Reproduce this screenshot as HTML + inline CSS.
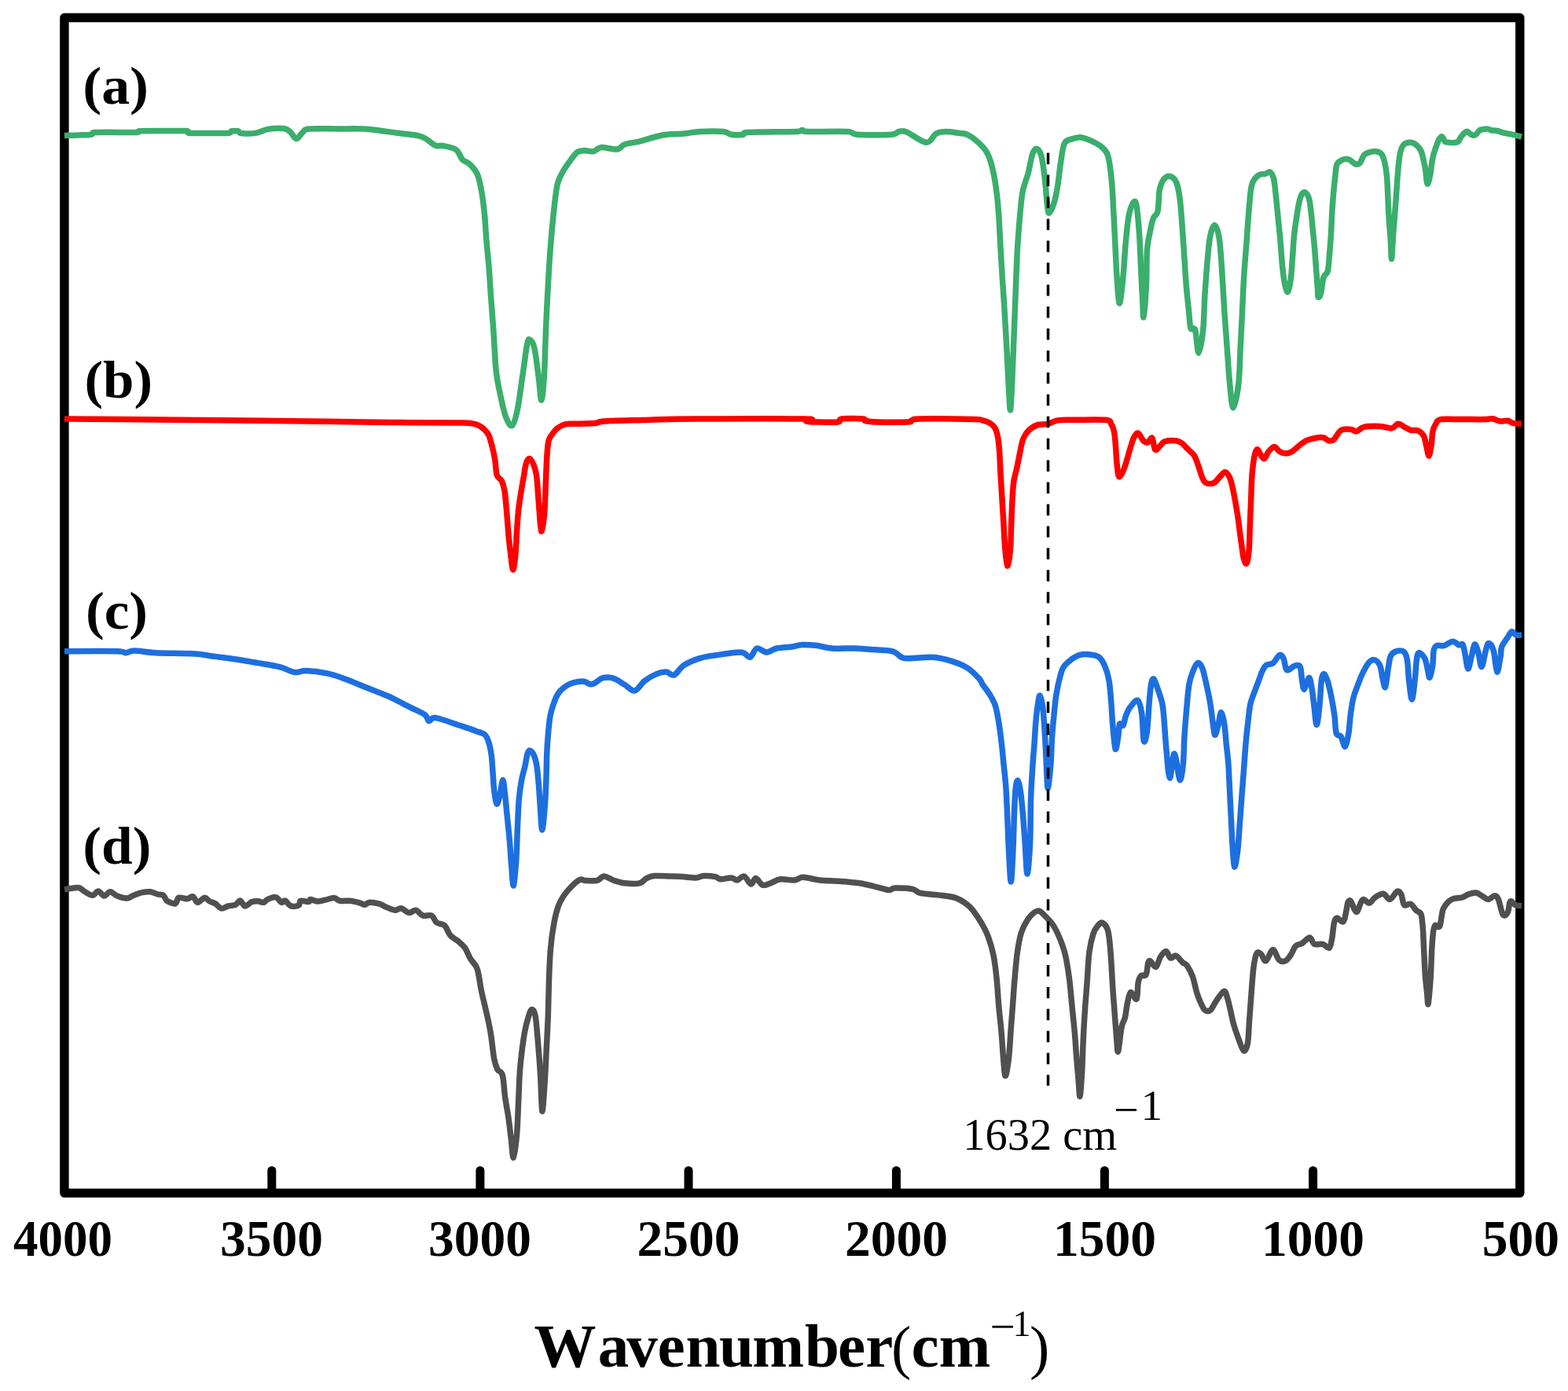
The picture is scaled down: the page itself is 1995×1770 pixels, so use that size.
<!DOCTYPE html>
<html><head><meta charset="utf-8"><title>FTIR spectra</title>
<style>html,body{margin:0;padding:0;background:#fff;} svg{display:block;}</style></head>
<body>
<svg width="1995" height="1770" viewBox="0 0 1995 1770">
<rect x="0" y="0" width="1995" height="1770" fill="#fff"/>
<rect x="81.9" y="22.5" width="1851.9" height="1495.6" fill="none" stroke="#000" stroke-width="11.4" stroke-linejoin="round"/>
<line x1="345.8" y1="1489.5" x2="345.8" y2="1515" stroke="#000" stroke-width="11" stroke-linecap="round"/>
<line x1="610.9" y1="1489.5" x2="610.9" y2="1515" stroke="#000" stroke-width="11" stroke-linecap="round"/>
<line x1="876.0" y1="1489.5" x2="876.0" y2="1515" stroke="#000" stroke-width="11" stroke-linecap="round"/>
<line x1="1140.4" y1="1489.5" x2="1140.4" y2="1515" stroke="#000" stroke-width="11" stroke-linecap="round"/>
<line x1="1405.4" y1="1489.5" x2="1405.4" y2="1515" stroke="#000" stroke-width="11" stroke-linecap="round"/>
<line x1="1670.6" y1="1489.5" x2="1670.6" y2="1515" stroke="#000" stroke-width="11" stroke-linecap="round"/>
<path d="M82.0 172.4 C85.0 172.3 94.3 172.2 100.0 172.0 C105.7 171.8 112.9 171.8 116.3 171.2 C119.7 170.6 114.7 169.1 120.3 168.6 C125.9 168.1 141.0 168.4 150.0 168.4 C159.0 168.4 169.7 168.7 174.4 168.4 C179.1 168.1 172.5 167.1 178.4 166.8 C184.3 166.5 200.2 166.6 210.0 166.6 C219.8 166.6 231.8 166.1 237.0 166.6 C242.2 167.1 236.3 168.9 241.0 169.4 C245.7 169.9 256.7 169.4 265.0 169.4 C273.3 169.4 285.8 169.8 290.7 169.4 C295.6 169.0 292.7 167.2 294.7 166.8 C296.7 166.4 300.8 166.4 302.8 166.8 C304.8 167.2 303.1 169.0 306.8 169.4 C310.5 169.8 319.1 170.2 324.8 169.4 C330.5 168.6 334.9 165.4 340.9 164.4 C346.9 163.4 356.2 163.1 360.9 163.6 C365.6 164.1 366.3 165.3 369.0 167.5 C371.7 169.7 374.3 176.3 377.0 176.5 C379.7 176.7 382.3 170.6 385.0 168.5 C387.7 166.4 385.5 164.8 393.0 164.0 C400.5 163.2 417.8 163.9 430.0 164.0 C442.2 164.1 453.3 163.4 466.0 164.3 C478.7 165.2 494.3 167.7 506.0 169.3 C517.7 170.9 528.0 171.2 536.0 173.8 C544.0 176.4 549.1 183.1 553.7 185.0 C558.3 186.9 559.3 184.6 563.7 185.5 C568.1 186.4 576.2 187.6 580.3 190.5 C584.4 193.4 585.4 200.0 588.2 203.0 C591.0 206.0 594.1 205.4 597.3 208.6 C600.5 211.8 604.9 215.8 607.5 222.0 C610.1 228.2 611.6 237.4 613.1 245.9 C614.6 254.4 615.5 263.2 616.5 273.0 C617.5 282.8 617.9 293.3 618.8 304.6 C619.7 315.9 621.2 329.1 622.1 340.8 C623.0 352.5 623.5 361.5 624.4 374.7 C625.3 387.9 626.7 403.7 627.8 419.9 C628.9 436.1 629.7 458.0 631.2 471.9 C632.7 485.8 634.7 493.7 636.8 503.5 C638.9 513.3 641.1 524.3 643.6 530.6 C646.1 536.9 649.0 543.0 651.5 541.5 C654.0 540.0 656.0 532.5 658.3 521.6 C660.6 510.8 663.0 490.3 665.1 476.4 C667.2 462.5 669.2 445.4 670.7 438.0 C672.2 430.6 672.6 431.6 674.1 432.3 C675.6 433.1 677.9 434.4 679.8 442.5 C681.7 450.6 683.9 469.8 685.4 480.9 C686.9 492.0 687.7 509.2 688.8 509.2 C689.9 509.2 691.2 495.8 692.2 480.9 C693.2 466.0 693.8 437.6 694.5 419.9 C695.2 402.2 695.8 391.6 696.7 374.7 C697.6 357.8 698.8 335.9 700.1 318.2 C701.4 300.5 703.1 282.4 704.6 268.5 C706.1 254.6 707.3 242.9 709.2 234.6 C711.1 226.3 713.3 223.7 715.9 218.8 C718.5 213.9 722.0 209.3 725.0 205.2 C728.0 201.0 731.0 196.2 734.0 193.9 C737.0 191.6 739.5 191.8 743.0 191.6 C746.5 191.4 751.3 193.3 755.0 192.6 C758.7 191.9 760.0 188.0 765.0 187.6 C770.0 187.2 780.0 190.6 785.0 190.0 C790.0 189.4 790.0 185.5 795.0 183.8 C800.0 182.1 807.0 181.6 815.0 179.6 C823.0 177.6 833.6 173.6 842.8 172.0 C852.0 170.4 862.4 170.8 870.3 170.0 C878.2 169.2 882.0 167.9 890.4 167.5 C898.8 167.1 913.8 166.9 920.5 167.5 C927.2 168.1 926.3 170.7 930.5 171.3 C934.7 171.9 942.6 171.7 945.5 171.3 C948.4 170.9 943.8 169.4 948.0 168.8 C952.2 168.2 959.8 168.2 970.6 168.0 C981.4 167.8 1004.6 167.9 1013.0 167.5 C1021.4 167.1 1018.2 165.5 1020.7 165.5 C1023.2 165.5 1018.5 167.2 1028.0 167.5 C1037.5 167.8 1067.5 166.9 1078.0 167.5 C1088.5 168.1 1081.8 170.7 1091.0 171.3 C1100.2 171.9 1124.8 171.9 1133.5 171.3 C1142.2 170.7 1140.2 168.1 1143.5 167.5 C1146.8 166.9 1147.7 165.7 1153.5 168.0 C1159.3 170.3 1172.3 181.0 1178.6 181.3 C1184.8 181.6 1186.8 172.3 1191.0 170.0 C1195.2 167.7 1198.7 167.6 1203.7 167.5 C1208.7 167.4 1216.5 168.9 1221.0 169.5 C1225.5 170.1 1227.2 169.5 1231.0 171.3 C1234.8 173.1 1239.6 176.7 1243.6 180.3 C1247.6 183.9 1251.9 187.9 1254.9 192.8 C1257.9 197.7 1259.5 202.0 1261.6 209.7 C1263.7 217.4 1265.8 228.5 1267.3 239.1 C1268.8 249.7 1269.8 260.6 1270.7 273.0 C1271.6 285.4 1272.2 300.5 1272.9 313.7 C1273.7 326.9 1274.4 340.1 1275.2 352.1 C1276.0 364.2 1276.6 370.9 1277.5 386.0 C1278.4 401.1 1279.9 425.6 1280.8 442.5 C1281.7 459.4 1282.3 474.4 1283.1 487.7 C1283.9 500.9 1284.7 522.0 1285.4 522.0 C1286.2 522.0 1286.8 502.8 1287.6 487.7 C1288.3 472.6 1289.2 450.0 1289.9 431.2 C1290.7 412.4 1291.3 393.5 1292.1 374.7 C1292.8 355.9 1293.5 335.1 1294.4 318.2 C1295.4 301.2 1296.7 285.4 1297.8 273.0 C1298.9 260.6 1299.5 252.3 1301.2 243.6 C1302.9 234.9 1305.9 228.9 1308.0 221.0 C1310.1 213.1 1311.7 201.5 1313.6 196.2 C1315.5 190.9 1317.4 189.0 1319.3 189.4 C1321.2 189.8 1323.2 192.0 1324.9 198.4 C1326.6 204.8 1328.1 216.9 1329.4 227.8 C1330.7 238.7 1331.8 256.9 1332.8 264.0 C1333.8 271.1 1333.8 271.5 1335.1 270.7 C1336.4 269.9 1339.0 264.7 1340.7 259.4 C1342.4 254.1 1343.8 248.1 1345.3 239.1 C1346.8 230.1 1348.3 214.6 1349.8 205.2 C1351.3 195.8 1352.0 187.3 1354.3 182.6 C1356.5 177.9 1359.9 178.3 1363.3 177.0 C1366.7 175.7 1370.4 174.3 1374.6 174.7 C1378.8 175.1 1383.7 177.1 1388.2 179.2 C1392.7 181.3 1398.2 183.9 1401.8 187.1 C1405.4 190.3 1407.6 191.6 1409.7 198.4 C1411.8 205.2 1413.1 217.2 1414.2 227.8 C1415.3 238.4 1415.7 248.5 1416.4 261.7 C1417.2 274.9 1417.9 291.8 1418.7 306.9 C1419.5 322.0 1420.0 338.9 1421.0 352.1 C1422.0 365.3 1423.1 386.0 1424.4 386.0 C1425.7 386.0 1427.7 365.2 1429.0 352.0 C1430.3 338.8 1431.1 320.4 1432.4 306.9 C1433.7 293.3 1434.9 279.0 1437.0 270.7 C1439.1 262.4 1442.8 253.0 1444.9 257.2 C1447.0 261.4 1448.3 281.7 1449.4 295.6 C1450.5 309.5 1450.8 325.7 1451.6 340.8 C1452.3 355.9 1453.3 375.6 1453.9 386.0 C1454.5 396.4 1454.2 406.8 1455.0 403.0 C1455.8 399.2 1457.7 377.5 1458.4 363.4 C1459.2 349.3 1458.6 330.2 1459.5 318.2 C1460.4 306.1 1462.7 297.9 1464.0 291.1 C1465.3 284.3 1466.0 281.3 1467.5 277.5 C1469.0 273.7 1471.8 274.5 1473.1 268.5 C1474.4 262.5 1474.1 248.2 1475.4 241.4 C1476.7 234.6 1478.7 230.6 1481.0 227.8 C1483.3 225.0 1486.4 223.7 1489.0 224.4 C1491.6 225.2 1494.7 227.2 1496.8 232.3 C1498.9 237.4 1500.1 244.3 1501.4 254.9 C1502.7 265.4 1503.8 283.2 1504.7 295.6 C1505.6 308.0 1506.2 318.2 1507.0 329.5 C1507.8 340.8 1508.3 352.1 1509.3 363.4 C1510.2 374.7 1511.8 388.3 1512.7 397.3 C1513.6 406.3 1513.6 413.8 1514.9 417.6 C1516.2 421.4 1518.9 414.6 1520.6 419.9 C1522.3 425.2 1523.4 449.3 1525.1 449.3 C1526.8 449.3 1529.4 432.3 1530.7 419.9 C1532.0 407.5 1532.0 389.8 1533.0 374.7 C1534.0 359.6 1535.3 341.9 1536.4 329.5 C1537.5 317.1 1538.3 307.2 1539.8 300.1 C1541.3 293.0 1543.5 286.2 1545.4 286.6 C1547.3 287.0 1549.6 293.4 1551.1 302.4 C1552.6 311.4 1553.4 325.0 1554.5 340.8 C1555.6 356.6 1556.8 380.4 1557.9 397.3 C1559.0 414.2 1560.1 427.4 1561.2 442.5 C1562.3 457.6 1563.3 474.9 1564.6 487.7 C1565.9 500.4 1567.3 519.0 1569.2 519.0 C1571.1 519.0 1574.4 500.4 1575.9 487.7 C1577.4 474.9 1577.4 457.6 1578.2 442.5 C1579.0 427.4 1579.8 412.4 1580.5 397.3 C1581.2 382.2 1581.8 367.2 1582.7 352.1 C1583.6 337.0 1585.0 322.0 1586.1 306.9 C1587.2 291.8 1588.4 273.8 1589.5 261.7 C1590.6 249.6 1591.0 241.0 1592.9 234.6 C1594.8 228.2 1598.0 225.5 1600.8 223.3 C1603.6 221.1 1607.5 221.9 1610.0 221.2 C1612.5 220.5 1614.3 217.9 1616.1 219.1 C1617.9 220.3 1619.5 223.2 1620.8 228.6 C1622.0 234.0 1622.7 243.3 1623.6 251.7 C1624.5 260.1 1625.4 269.8 1626.3 278.8 C1627.2 287.8 1628.1 295.7 1629.0 305.9 C1629.9 316.1 1630.8 330.8 1631.7 339.8 C1632.6 348.8 1633.3 354.7 1634.4 360.0 C1635.5 365.3 1637.2 372.6 1638.5 371.5 C1639.8 370.4 1641.5 360.9 1642.5 353.3 C1643.5 345.8 1643.9 335.2 1644.6 326.2 C1645.3 317.2 1645.8 307.0 1646.6 299.1 C1647.4 291.2 1648.3 285.6 1649.3 278.8 C1650.3 272.0 1651.6 263.6 1652.7 258.4 C1653.8 253.2 1654.8 249.8 1656.1 247.6 C1657.4 245.3 1659.2 244.0 1660.8 244.9 C1662.4 245.8 1664.3 248.5 1665.6 253.0 C1666.8 257.5 1667.5 265.4 1668.3 272.0 C1669.1 278.6 1669.6 285.5 1670.3 292.3 C1671.0 299.1 1671.6 304.7 1672.3 312.6 C1673.0 320.5 1673.7 330.8 1674.4 339.8 C1675.1 348.9 1676.0 360.5 1676.4 366.9 C1676.9 373.3 1676.4 376.9 1677.1 378.0 C1677.8 379.1 1679.4 377.7 1680.5 373.6 C1681.6 369.5 1682.4 358.0 1683.9 353.3 C1685.4 348.6 1688.1 349.7 1689.3 345.2 C1690.5 340.7 1690.6 333.9 1691.3 326.2 C1692.0 318.5 1692.8 308.1 1693.4 299.1 C1694.0 290.1 1694.2 281.0 1694.7 272.0 C1695.2 263.0 1696.0 252.8 1696.7 244.9 C1697.4 237.0 1698.1 230.4 1698.8 224.5 C1699.5 218.6 1699.6 213.0 1700.8 209.6 C1702.0 206.2 1704.2 205.4 1706.2 204.2 C1708.2 203.0 1711.0 202.2 1713.0 202.2 C1715.0 202.2 1716.4 203.1 1718.4 204.2 C1720.4 205.3 1723.2 208.6 1725.2 209.0 C1727.2 209.4 1728.9 208.8 1730.6 206.9 C1732.3 205.0 1733.6 199.6 1735.4 197.4 C1737.2 195.2 1738.9 194.8 1741.5 194.0 C1744.1 193.2 1748.3 192.3 1751.0 192.7 C1753.7 193.0 1755.9 193.7 1757.7 196.1 C1759.5 198.5 1760.7 202.2 1761.8 206.9 C1762.9 211.6 1763.8 217.0 1764.5 224.5 C1765.2 232.0 1765.5 242.6 1765.9 251.7 C1766.4 260.8 1766.6 269.8 1767.2 278.8 C1767.8 287.8 1768.7 297.4 1769.3 305.9 C1769.9 314.3 1770.0 330.6 1770.6 329.5 C1771.1 328.4 1771.9 308.7 1772.6 299.1 C1773.3 289.5 1774.0 281.0 1774.7 272.0 C1775.4 263.0 1776.0 253.9 1776.7 244.9 C1777.4 235.9 1777.9 226.2 1778.7 217.8 C1779.5 209.4 1780.2 200.3 1781.5 194.7 C1782.8 189.0 1783.9 186.1 1786.2 183.9 C1788.5 181.7 1792.5 181.1 1795.2 181.3 C1797.9 181.5 1800.4 183.1 1802.5 184.9 C1804.6 186.7 1806.5 188.9 1808.0 192.1 C1809.5 195.3 1810.3 200.2 1811.3 204.2 C1812.2 208.2 1812.9 211.2 1813.7 216.2 C1814.5 221.2 1815.0 233.3 1816.1 234.0 C1817.2 234.7 1819.2 224.5 1820.1 220.2 C1821.0 215.9 1821.0 212.2 1821.7 208.2 C1822.4 204.2 1823.0 200.1 1824.1 196.1 C1825.2 192.1 1826.9 187.3 1828.1 184.1 C1829.3 180.9 1830.2 178.6 1831.3 176.9 C1832.4 175.2 1833.4 173.4 1834.5 173.7 C1835.6 174.0 1836.8 177.3 1837.7 178.5 C1838.6 179.7 1837.4 180.5 1840.1 180.9 C1842.8 181.3 1850.7 182.0 1853.8 180.9 C1856.9 179.8 1857.0 176.5 1858.6 174.5 C1860.2 172.5 1862.1 170.1 1863.4 168.9 C1864.7 167.7 1865.5 167.2 1866.6 167.3 C1867.7 167.4 1868.6 168.9 1869.8 169.7 C1871.0 170.5 1872.5 171.8 1873.8 172.1 C1875.1 172.4 1876.3 172.4 1877.8 171.3 C1879.3 170.2 1881.0 166.8 1882.6 165.7 C1884.2 164.6 1885.8 164.8 1887.5 164.5 C1889.2 164.2 1891.5 163.9 1893.1 164.1 C1894.7 164.3 1895.1 165.3 1897.1 165.7 C1899.1 166.1 1902.6 166.0 1905.1 166.5 C1907.6 167.0 1909.8 168.2 1912.3 168.9 C1914.8 169.6 1917.6 170.0 1920.3 170.5 C1923.0 171.0 1925.8 171.5 1928.4 172.1 C1931.0 172.7 1934.7 173.8 1936.0 174.2" fill="none" stroke="#3aae6c" stroke-width="7.5" stroke-linejoin="round" stroke-linecap="butt"/>
<path d="M82.0 533.0 C93.3 533.1 122.0 533.2 150.0 533.5 C178.0 533.8 206.2 534.0 250.0 534.5 C293.8 535.0 371.3 535.8 413.0 536.3 C454.7 536.8 472.5 537.2 500.0 537.5 C527.5 537.8 561.4 537.8 578.0 538.0 C594.6 538.2 594.3 537.9 599.8 538.6 C605.3 539.3 607.5 540.1 611.0 542.4 C614.5 544.7 618.5 548.2 621.0 552.3 C623.5 556.4 624.4 561.8 625.9 567.2 C627.4 572.6 628.7 578.4 629.7 584.6 C630.8 590.8 630.8 599.9 632.2 604.5 C633.7 609.1 636.8 608.5 638.4 612.0 C640.0 615.5 641.1 619.3 642.1 625.7 C643.1 632.1 643.8 641.2 644.6 650.5 C645.4 659.8 646.3 672.7 647.1 681.6 C647.9 690.5 648.7 696.8 649.6 704.0 C650.5 711.2 651.7 724.6 652.7 725.0 C653.7 725.4 655.0 714.8 655.8 706.5 C656.6 698.2 657.0 684.7 657.6 675.4 C658.2 666.1 658.7 658.4 659.5 650.5 C660.3 642.6 661.5 635.4 662.6 628.1 C663.7 620.9 665.2 613.4 666.3 607.0 C667.4 600.6 668.1 593.5 669.4 589.6 C670.6 585.7 672.2 583.2 673.8 583.4 C675.4 583.6 677.3 587.4 678.8 590.9 C680.2 594.4 681.6 598.7 682.5 604.5 C683.4 610.3 683.8 618.0 684.4 625.7 C685.0 633.4 685.5 642.1 686.2 650.5 C686.9 658.9 687.7 675.0 688.7 676.0 C689.7 677.0 691.6 664.1 692.4 656.7 C693.2 649.4 693.3 641.2 693.7 631.9 C694.1 622.6 694.5 610.1 694.9 600.8 C695.3 591.5 695.7 582.5 696.2 575.9 C696.7 569.3 697.1 564.7 698.0 561.0 C698.9 557.3 699.9 556.3 701.8 553.6 C703.7 550.9 706.3 547.2 709.2 544.9 C712.1 542.6 715.5 540.8 719.2 539.9 C722.9 539.0 725.4 539.5 731.6 539.3 C737.8 539.1 750.3 539.1 756.5 538.6 C762.7 538.1 758.7 536.7 768.9 536.0 C779.1 535.3 798.2 535.0 817.6 534.5 C837.0 534.0 850.8 533.2 885.0 533.0 C919.2 532.8 999.5 532.5 1023.0 533.0 C1046.5 533.5 1023.2 535.3 1026.0 536.0 C1028.8 536.7 1033.3 536.8 1040.0 537.0 C1046.7 537.2 1060.8 537.7 1066.0 537.0 C1071.2 536.3 1065.7 533.7 1071.0 533.0 C1076.3 532.3 1093.0 532.6 1098.0 533.0 C1103.0 533.4 1098.0 534.8 1101.0 535.5 C1104.0 536.2 1107.0 536.8 1116.0 537.0 C1125.0 537.2 1147.7 537.3 1155.0 537.0 C1162.3 536.7 1157.3 535.7 1160.0 535.0 C1162.7 534.3 1157.9 533.2 1171.0 533.0 C1184.1 532.8 1225.5 533.2 1238.7 533.5 C1251.9 533.8 1246.5 534.0 1250.0 534.9 C1253.5 535.8 1257.2 536.9 1259.9 538.6 C1262.6 540.3 1264.4 541.8 1266.1 544.9 C1267.8 548.0 1268.9 552.1 1269.8 557.3 C1270.7 562.5 1271.2 568.6 1271.7 575.9 C1272.2 583.1 1272.4 591.5 1272.9 600.8 C1273.4 610.1 1274.2 621.5 1274.8 631.9 C1275.4 642.3 1276.1 652.6 1276.7 663.0 C1277.3 673.4 1277.7 684.5 1278.5 694.0 C1279.3 703.5 1280.4 719.0 1281.6 720.0 C1282.8 721.0 1284.6 708.7 1285.4 700.2 C1286.2 691.7 1286.2 679.6 1286.6 669.2 C1287.0 658.9 1287.4 647.4 1287.9 638.1 C1288.4 628.8 1288.8 620.0 1289.7 613.2 C1290.6 606.4 1292.2 602.9 1293.4 597.1 C1294.7 591.3 1296.0 584.4 1297.2 578.4 C1298.5 572.4 1299.5 565.5 1300.9 561.0 C1302.4 556.5 1304.0 553.8 1305.9 551.1 C1307.8 548.4 1309.6 546.7 1312.1 544.9 C1314.6 543.1 1317.3 541.4 1320.8 540.5 C1324.3 539.6 1329.0 540.2 1333.2 539.3 C1337.4 538.4 1340.5 535.7 1345.7 534.9 C1350.9 534.1 1354.2 534.4 1364.3 534.3 C1374.4 534.2 1398.3 533.4 1406.6 534.3 C1414.9 535.2 1412.1 537.1 1414.0 539.9 C1415.9 542.7 1416.9 546.1 1417.8 551.1 C1418.7 556.1 1419.1 563.5 1419.6 569.7 C1420.1 575.9 1420.3 582.4 1420.9 588.4 C1421.5 594.4 1422.2 603.7 1423.3 606.0 C1424.4 608.3 1426.2 604.7 1427.7 602.0 C1429.2 599.3 1430.9 594.6 1432.5 589.6 C1434.1 584.6 1435.8 577.6 1437.5 572.2 C1439.2 566.8 1440.7 560.8 1442.4 557.3 C1444.2 553.8 1445.9 550.5 1448.0 551.1 C1450.1 551.7 1452.8 559.0 1454.9 561.0 C1457.0 563.0 1458.7 563.5 1460.5 562.9 C1462.3 562.3 1464.5 555.8 1466.0 557.3 C1467.5 558.8 1467.9 570.8 1469.8 572.2 C1471.7 573.7 1475.1 567.8 1477.2 566.0 C1479.3 564.2 1478.9 562.4 1482.2 561.6 C1485.5 560.8 1493.4 560.5 1497.1 561.0 C1500.8 561.5 1502.1 562.8 1504.6 564.7 C1507.1 566.6 1509.5 569.7 1512.0 572.2 C1514.5 574.7 1517.4 576.4 1519.5 579.7 C1521.6 583.0 1522.8 587.6 1524.5 592.1 C1526.2 596.6 1527.8 603.3 1529.4 607.0 C1531.1 610.7 1531.9 613.2 1534.4 614.5 C1536.9 615.8 1541.5 615.8 1544.4 614.5 C1547.3 613.2 1549.4 609.3 1551.8 607.0 C1554.2 604.7 1556.5 600.8 1558.6 600.8 C1560.7 600.8 1562.6 603.9 1564.2 607.0 C1565.8 610.1 1566.8 614.2 1568.0 619.4 C1569.2 624.6 1570.6 631.9 1571.7 638.1 C1572.8 644.3 1573.9 650.5 1574.8 656.7 C1575.7 662.9 1576.5 669.2 1577.3 675.4 C1578.1 681.6 1579.0 688.2 1579.8 694.0 C1580.6 699.8 1581.3 706.4 1582.3 710.2 C1583.3 714.0 1584.9 718.7 1586.0 717.0 C1587.1 715.3 1588.4 708.2 1589.1 700.2 C1589.8 692.2 1589.9 679.6 1590.3 669.2 C1590.7 658.9 1591.2 648.5 1591.6 638.1 C1592.0 627.7 1592.3 615.3 1592.8 607.0 C1593.3 598.7 1594.0 593.6 1594.7 588.4 C1595.4 583.2 1596.3 578.6 1597.2 575.9 C1598.1 573.2 1599.0 571.4 1600.3 572.2 C1601.6 573.0 1603.8 579.0 1605.3 580.9 C1606.8 582.8 1607.5 584.4 1609.0 583.4 C1610.5 582.4 1611.9 577.2 1614.0 574.7 C1616.1 572.2 1619.1 568.5 1621.4 568.5 C1623.7 568.5 1625.6 573.1 1628.0 574.5 C1630.4 575.9 1633.3 577.0 1636.0 577.0 C1638.7 577.0 1640.0 577.0 1644.0 574.5 C1648.0 572.0 1654.8 564.6 1660.1 561.7 C1665.4 558.8 1672.1 557.7 1676.1 556.9 C1680.1 556.1 1681.8 556.2 1684.2 556.9 C1686.6 557.6 1688.5 560.5 1690.6 560.9 C1692.7 561.3 1694.3 561.6 1697.0 559.3 C1699.7 557.0 1702.8 549.4 1706.6 547.3 C1710.3 545.2 1716.3 546.2 1719.5 546.5 C1722.7 546.8 1723.2 549.4 1725.9 548.9 C1728.6 548.4 1730.4 544.4 1735.5 543.3 C1740.6 542.2 1750.4 542.2 1756.3 542.5 C1762.2 542.8 1767.0 545.4 1770.8 544.9 C1774.5 544.4 1776.1 539.5 1778.8 539.2 C1781.5 538.9 1784.1 541.9 1786.8 543.3 C1789.5 544.6 1791.8 546.5 1794.8 547.3 C1797.8 548.1 1801.7 546.8 1804.5 548.1 C1807.3 549.4 1810.0 552.0 1811.7 555.3 C1813.4 558.6 1813.8 564.0 1814.9 568.1 C1816.0 572.2 1817.0 580.5 1818.1 580.0 C1819.2 579.5 1820.5 570.1 1821.3 564.9 C1822.1 559.7 1822.0 553.2 1822.9 548.9 C1823.8 544.6 1825.2 541.8 1826.9 539.2 C1828.6 536.7 1827.7 534.5 1833.3 533.6 C1838.9 532.7 1851.0 533.6 1860.6 533.6 C1870.2 533.6 1884.7 533.7 1891.1 533.6 C1897.5 533.5 1896.2 532.4 1899.1 532.8 C1902.0 533.2 1905.5 535.6 1908.7 536.0 C1911.9 536.4 1915.7 534.8 1918.4 535.2 C1921.1 535.6 1921.9 537.7 1924.8 538.4 C1927.7 539.1 1934.1 539.1 1936.0 539.2" fill="none" stroke="#ff0000" stroke-width="7.5" stroke-linejoin="round" stroke-linecap="butt"/>
<path d="M82.0 828.7 C93.2 828.7 135.9 828.4 148.9 828.7 C161.9 829.0 156.3 830.8 160.0 830.7 C163.7 830.6 164.6 827.9 171.0 827.9 C177.4 827.9 185.7 830.0 198.6 830.7 C211.5 831.4 235.8 831.3 248.2 832.1 C260.6 832.9 264.3 834.2 273.0 835.4 C281.7 836.5 291.4 837.6 300.6 839.0 C309.8 840.4 318.9 842.0 328.1 843.6 C337.3 845.2 347.9 846.6 355.7 848.6 C363.5 850.6 369.5 854.7 375.0 855.5 C380.5 856.3 381.9 853.4 388.8 853.6 C395.7 853.8 408.1 855.2 416.4 856.9 C424.7 858.6 430.1 860.8 438.4 863.8 C446.7 866.8 456.8 871.1 466.0 874.8 C475.2 878.5 484.4 881.7 493.6 885.8 C502.8 889.9 513.3 895.7 521.1 899.6 C528.9 903.5 536.3 906.3 540.4 909.3 C544.5 912.3 543.6 916.8 545.9 917.5 C548.2 918.2 547.8 912.5 554.2 913.4 C560.6 914.3 576.9 920.5 584.5 923.0 C592.1 925.5 596.3 926.8 600.0 928.1 C603.7 929.4 604.0 929.6 606.8 930.7 C609.6 931.8 614.4 932.5 616.9 934.9 C619.4 937.3 620.6 940.6 622.0 945.1 C623.4 949.6 624.5 955.5 625.4 962.0 C626.2 968.5 626.5 976.8 627.1 984.1 C627.7 991.5 627.9 999.6 628.8 1006.1 C629.6 1012.6 630.9 1022.4 632.2 1023.0 C633.5 1023.6 635.1 1014.6 636.4 1009.5 C637.7 1004.4 638.8 992.5 639.8 992.5 C640.8 992.5 641.5 1002.4 642.4 1009.5 C643.2 1016.6 643.9 1025.0 644.9 1034.9 C645.9 1044.8 647.3 1057.5 648.3 1068.8 C649.3 1080.1 649.9 1093.0 650.8 1102.7 C651.6 1112.4 652.4 1128.4 653.4 1127.0 C654.4 1125.6 655.9 1106.7 656.8 1094.2 C657.6 1081.7 657.9 1064.6 658.5 1051.9 C659.1 1039.2 659.4 1027.9 660.2 1018.0 C661.1 1008.1 662.3 999.6 663.6 992.5 C664.9 985.4 666.5 981.2 667.8 975.6 C669.1 970.0 670.1 962.0 671.2 958.6 C672.3 955.2 673.2 954.7 674.6 955.3 C676.0 955.9 678.3 958.6 679.7 962.0 C681.1 965.4 682.1 969.1 683.1 975.6 C684.1 982.1 684.9 992.5 685.6 1001.0 C686.3 1009.5 686.6 1017.2 687.3 1026.4 C688.0 1035.6 688.8 1056.0 689.8 1056.0 C690.8 1056.0 692.4 1037.0 693.2 1026.4 C694.1 1015.8 694.5 1003.8 694.9 992.5 C695.3 981.2 695.4 968.5 695.8 958.6 C696.2 948.7 696.8 941.1 697.5 933.2 C698.2 925.3 698.9 917.4 700.0 911.2 C701.1 905.0 702.5 900.7 704.2 895.9 C705.9 891.1 707.8 886.1 710.2 882.4 C712.6 878.7 715.5 876.2 718.6 873.9 C721.7 871.6 724.8 869.9 728.8 868.8 C732.8 867.7 738.7 866.8 742.4 867.1 C746.1 867.4 748.5 870.1 750.8 870.5 C753.0 870.9 753.3 871.0 755.9 869.7 C758.5 868.4 763.0 864.2 766.1 862.9 C769.2 861.6 771.9 861.8 774.6 862.0 C777.3 862.2 779.1 862.3 782.5 863.9 C785.9 865.5 790.8 868.9 795.0 871.4 C799.2 873.9 803.4 879.7 807.6 878.9 C811.8 878.1 815.5 869.9 820.1 866.4 C824.7 862.9 830.6 859.5 835.2 857.6 C839.8 855.7 844.0 854.9 847.7 855.1 C851.5 855.3 853.9 860.4 857.7 858.9 C861.5 857.4 864.9 849.9 870.3 846.4 C875.7 842.9 883.6 839.7 890.3 837.6 C897.0 835.5 901.6 835.0 910.4 833.8 C919.2 832.5 935.6 829.7 942.9 830.1 C950.2 830.5 950.9 837.1 954.2 836.3 C957.6 835.4 959.5 826.0 963.0 825.0 C966.5 824.0 971.3 830.1 975.5 830.1 C979.7 830.1 982.6 826.2 988.0 825.0 C993.4 823.8 1002.6 823.8 1008.0 823.0 C1013.4 822.2 1015.6 820.8 1020.6 820.5 C1025.6 820.2 1031.9 820.5 1038.2 821.3 C1044.5 822.0 1049.9 824.4 1058.2 825.0 C1066.5 825.6 1080.4 824.8 1088.3 825.0 C1096.2 825.2 1097.9 825.7 1105.8 826.3 C1113.7 826.9 1128.4 826.9 1135.9 828.8 C1143.4 830.7 1142.7 836.4 1151.0 837.6 C1159.3 838.9 1176.0 835.7 1186.0 836.3 C1196.0 836.9 1203.6 839.0 1211.1 841.3 C1218.6 843.6 1225.3 846.3 1231.2 850.1 C1237.1 853.9 1243.1 860.6 1246.2 864.0 C1249.3 867.4 1247.9 867.4 1250.0 870.6 C1252.1 873.8 1256.3 878.8 1259.0 883.3 C1261.7 887.8 1264.3 891.8 1266.3 897.8 C1268.3 903.8 1269.4 911.4 1270.8 919.5 C1272.2 927.6 1273.4 937.6 1274.4 946.6 C1275.5 955.6 1276.2 964.7 1277.1 973.7 C1278.0 982.7 1279.0 990.2 1279.8 1000.8 C1280.5 1011.3 1281.0 1023.4 1281.6 1037.0 C1282.2 1050.6 1282.7 1068.0 1283.5 1082.2 C1284.3 1096.4 1285.3 1122.0 1286.2 1122.0 C1287.1 1122.0 1288.2 1097.9 1288.9 1082.2 C1289.7 1066.5 1290.1 1041.6 1290.7 1028.0 C1291.3 1014.4 1291.8 1006.5 1292.5 1000.8 C1293.2 995.1 1294.2 992.1 1295.2 993.6 C1296.2 995.1 1297.8 1002.7 1298.8 1009.9 C1299.8 1017.1 1300.6 1026.5 1301.5 1037.0 C1302.4 1047.5 1303.3 1060.7 1304.2 1073.2 C1305.1 1085.7 1305.9 1112.0 1307.0 1112.0 C1308.1 1112.0 1309.8 1088.7 1310.6 1073.2 C1311.3 1057.7 1311.0 1034.0 1311.5 1018.9 C1312.0 1003.8 1312.5 994.8 1313.3 982.7 C1314.0 970.7 1315.2 957.1 1316.0 946.6 C1316.8 936.1 1317.0 927.9 1317.8 919.5 C1318.5 911.1 1319.6 901.7 1320.5 896.0 C1321.4 890.3 1322.1 884.2 1323.2 885.1 C1324.3 886.0 1325.8 892.7 1326.9 901.4 C1328.0 910.1 1328.8 925.5 1329.6 937.5 C1330.3 949.5 1330.8 962.8 1331.4 973.7 C1332.0 984.6 1332.3 1003.0 1333.2 1003.0 C1334.1 1003.0 1335.9 984.6 1336.8 973.7 C1337.7 962.8 1337.8 948.6 1338.6 937.5 C1339.3 926.4 1340.4 915.8 1341.3 906.8 C1342.2 897.8 1342.8 890.8 1344.0 883.3 C1345.2 875.8 1347.1 867.3 1348.6 861.6 C1350.1 855.9 1350.8 852.5 1353.1 848.9 C1355.3 845.3 1358.8 842.4 1362.1 839.9 C1365.4 837.4 1368.8 834.8 1373.0 833.6 C1377.2 832.5 1383.2 832.5 1387.4 833.0 C1391.6 833.5 1395.3 833.9 1398.3 836.3 C1401.3 838.6 1403.4 842.3 1405.5 847.1 C1407.6 851.9 1409.5 857.7 1410.9 865.2 C1412.3 872.7 1412.9 883.2 1413.7 892.3 C1414.5 901.3 1414.6 909.4 1415.5 919.5 C1416.4 929.6 1417.9 950.0 1419.1 953.0 C1420.3 956.0 1421.8 942.8 1422.7 937.5 C1423.6 932.2 1423.5 923.7 1424.5 921.3 C1425.5 918.9 1427.7 924.9 1429.0 923.1 C1430.3 921.3 1431.1 914.3 1432.6 910.4 C1434.1 906.5 1435.6 902.8 1438.1 899.6 C1440.6 896.4 1445.2 889.8 1447.6 891.2 C1450.0 892.6 1451.4 899.5 1452.7 908.1 C1454.0 916.7 1454.2 939.3 1455.3 943.0 C1456.4 946.7 1458.4 938.0 1459.5 930.2 C1460.6 922.4 1461.2 906.2 1462.0 896.3 C1462.8 886.4 1463.6 876.2 1464.6 870.8 C1465.6 865.4 1466.5 862.7 1468.0 864.1 C1469.5 865.5 1472.1 873.9 1473.9 879.3 C1475.7 884.7 1477.7 889.2 1479.0 896.3 C1480.3 903.4 1480.7 911.8 1481.5 921.7 C1482.3 931.6 1483.0 944.2 1484.1 955.6 C1485.2 967.0 1486.6 989.4 1488.3 990.0 C1490.0 990.6 1492.1 958.6 1494.2 959.0 C1496.3 959.4 1499.2 990.0 1501.0 992.2 C1502.8 994.5 1504.3 981.4 1505.3 972.5 C1506.3 963.6 1506.2 949.9 1506.9 938.6 C1507.6 927.3 1508.5 916.0 1509.5 904.7 C1510.5 893.4 1511.5 879.3 1512.9 870.8 C1514.3 862.3 1516.2 858.4 1518.0 853.9 C1519.8 849.4 1521.9 844.3 1523.9 843.7 C1525.9 843.1 1528.0 846.0 1529.8 850.5 C1531.6 855.0 1533.2 863.2 1534.9 870.8 C1536.6 878.4 1538.6 887.8 1540.0 896.3 C1541.4 904.8 1542.4 915.2 1543.4 921.7 C1544.4 928.2 1544.8 935.3 1545.9 935.3 C1547.0 935.3 1548.9 926.5 1550.2 921.7 C1551.5 916.9 1552.3 906.4 1553.6 906.4 C1554.9 906.4 1556.7 914.9 1557.8 921.7 C1558.9 928.5 1559.4 938.6 1560.3 947.1 C1561.2 955.6 1562.2 962.6 1562.9 972.5 C1563.6 982.4 1564.0 995.1 1564.6 1006.4 C1565.2 1017.7 1565.7 1029.0 1566.3 1040.3 C1566.9 1051.6 1567.3 1063.8 1568.0 1074.2 C1568.7 1084.7 1569.4 1101.6 1570.5 1103.0 C1571.6 1104.4 1573.6 1091.7 1574.7 1082.7 C1575.8 1073.7 1576.5 1060.1 1577.3 1048.8 C1578.1 1037.5 1578.9 1026.2 1579.8 1014.9 C1580.7 1003.6 1581.6 992.3 1582.4 981.0 C1583.2 969.7 1584.1 957.0 1584.9 947.1 C1585.8 937.2 1586.5 930.2 1587.5 921.7 C1588.5 913.2 1589.4 903.1 1590.8 896.3 C1592.2 889.5 1594.2 885.8 1595.9 881.0 C1597.6 876.2 1599.3 872.0 1601.0 867.5 C1602.7 863.0 1604.4 857.4 1606.1 853.9 C1607.8 850.4 1608.9 848.0 1611.2 846.3 C1613.5 844.6 1616.9 845.8 1619.7 843.7 C1622.5 841.6 1625.8 834.5 1628.1 833.6 C1630.3 832.7 1631.7 835.0 1633.2 838.1 C1634.7 841.2 1634.8 851.0 1637.2 852.5 C1639.6 854.0 1644.7 847.8 1647.5 847.1 C1650.3 846.5 1652.8 845.6 1654.3 848.6 C1655.8 851.6 1655.6 860.4 1656.5 865.2 C1657.4 870.0 1658.0 877.7 1659.5 877.2 C1661.0 876.7 1664.0 862.2 1665.6 862.2 C1667.2 862.2 1668.3 871.7 1669.3 877.2 C1670.3 882.7 1670.6 887.8 1671.6 895.3 C1672.6 902.8 1674.0 922.3 1675.3 922.3 C1676.5 922.3 1678.1 904.8 1679.1 895.3 C1680.1 885.8 1680.4 871.5 1681.4 865.2 C1682.4 858.9 1683.7 857.2 1685.1 857.7 C1686.5 858.2 1688.1 863.2 1689.6 868.2 C1691.1 873.2 1692.7 880.7 1694.1 887.7 C1695.5 894.7 1696.9 902.8 1697.9 910.3 C1698.9 917.8 1698.8 928.4 1700.2 932.9 C1701.6 937.4 1704.3 934.5 1706.2 937.4 C1708.1 940.2 1709.8 950.8 1711.4 950.0 C1713.0 949.2 1714.8 939.5 1715.9 932.9 C1717.0 926.3 1717.2 917.8 1718.2 910.3 C1719.2 902.8 1720.5 894.0 1722.0 887.7 C1723.5 881.4 1725.3 877.7 1727.2 872.7 C1729.1 867.7 1730.9 862.5 1733.2 857.7 C1735.5 852.9 1738.3 847.1 1740.8 844.1 C1743.3 841.1 1745.8 839.1 1748.3 839.6 C1750.8 840.1 1753.9 842.8 1755.8 847.1 C1757.7 851.4 1758.4 860.7 1759.5 865.2 C1760.6 869.7 1761.5 876.7 1762.6 874.2 C1763.7 871.7 1765.2 856.7 1766.3 850.2 C1767.4 843.7 1767.8 838.6 1769.3 835.1 C1770.8 831.6 1772.5 830.1 1775.3 829.1 C1778.1 828.1 1783.4 827.4 1785.9 829.1 C1788.4 830.9 1789.3 833.6 1790.4 839.6 C1791.5 845.6 1791.6 856.8 1792.6 865.2 C1793.6 873.6 1795.1 890.0 1796.4 890.0 C1797.7 890.0 1799.2 873.6 1800.2 865.2 C1801.2 856.8 1801.5 845.4 1802.4 839.6 C1803.3 833.8 1803.7 830.9 1805.4 830.6 C1807.2 830.4 1811.0 834.3 1812.9 838.1 C1814.8 841.9 1815.7 849.2 1816.7 853.2 C1817.7 857.2 1818.0 863.2 1819.0 862.2 C1820.0 861.2 1821.8 852.9 1822.7 847.1 C1823.6 841.3 1823.3 831.9 1824.2 827.6 C1825.1 823.4 1825.9 822.6 1828.0 821.6 C1830.1 820.6 1833.6 822.5 1837.0 821.6 C1840.4 820.7 1845.0 816.4 1848.3 816.3 C1851.5 816.2 1854.4 820.2 1856.5 820.8 C1858.6 821.4 1859.8 818.2 1861.0 820.1 C1862.2 822.0 1862.9 827.0 1864.0 832.1 C1865.1 837.2 1866.4 850.5 1867.8 851.0 C1869.2 851.5 1870.9 840.2 1872.3 835.1 C1873.7 830.0 1874.7 821.1 1876.1 820.1 C1877.5 819.1 1879.1 824.4 1880.6 829.1 C1882.1 833.9 1883.5 848.9 1885.1 848.6 C1886.7 848.4 1888.9 832.6 1890.4 827.6 C1891.9 822.6 1892.5 818.6 1894.1 818.6 C1895.7 818.6 1898.4 821.5 1900.2 827.6 C1902.0 833.7 1903.2 853.8 1904.7 855.0 C1906.2 856.2 1908.2 840.4 1909.2 835.1 C1910.2 829.8 1909.2 827.1 1910.7 823.1 C1912.2 819.1 1916.1 814.4 1918.2 811.1 C1920.3 807.8 1921.8 804.0 1923.5 803.5 C1925.2 803.0 1926.6 807.2 1928.7 808.0 C1930.8 808.8 1934.8 808.0 1936.0 808.0" fill="none" stroke="#1d6fe0" stroke-width="7.5" stroke-linejoin="round" stroke-linecap="butt"/>
<path d="M82.0 1131.8 C84.9 1131.4 95.3 1129.1 99.5 1129.5 C103.7 1129.9 104.1 1132.5 107.1 1134.1 C110.1 1135.7 114.6 1139.3 117.6 1139.3 C120.6 1139.3 122.6 1134.0 125.1 1134.1 C127.6 1134.2 130.1 1140.0 132.6 1140.1 C135.1 1140.2 137.4 1134.8 140.2 1134.8 C143.0 1134.8 145.7 1138.7 149.2 1140.1 C152.7 1141.5 157.7 1143.2 161.2 1143.1 C164.7 1143.0 166.9 1140.5 170.2 1139.3 C173.5 1138.0 177.3 1136.3 180.8 1135.6 C184.3 1134.8 188.1 1134.4 191.3 1134.8 C194.6 1135.2 197.6 1137.0 200.3 1137.8 C203.1 1138.5 205.8 1137.9 207.8 1139.3 C209.8 1140.7 209.8 1144.3 212.3 1146.1 C214.8 1147.8 220.4 1150.4 222.9 1149.8 C225.4 1149.2 224.9 1143.3 227.4 1142.3 C229.9 1141.3 234.9 1144.0 237.9 1143.8 C240.9 1143.5 243.2 1140.0 245.4 1140.8 C247.7 1141.5 248.9 1148.0 251.4 1148.3 C253.9 1148.5 258.0 1142.5 260.5 1142.3 C263.0 1142.0 264.2 1145.5 266.5 1146.8 C268.8 1148.0 271.5 1148.3 274.0 1149.8 C276.5 1151.3 278.8 1155.4 281.5 1155.9 C284.2 1156.4 287.5 1153.7 290.5 1152.9 C293.5 1152.2 297.0 1152.5 299.5 1151.4 C302.0 1150.3 303.6 1145.8 305.6 1146.1 C307.6 1146.3 309.1 1152.7 311.6 1152.9 C314.1 1153.2 317.9 1148.6 320.6 1147.6 C323.4 1146.6 325.6 1146.7 328.1 1146.8 C330.6 1146.9 333.6 1148.7 335.6 1148.3 C337.6 1147.9 337.7 1145.7 340.2 1144.6 C342.7 1143.5 347.7 1141.0 350.7 1141.6 C353.7 1142.2 356.2 1147.5 358.2 1148.3 C360.2 1149.0 360.7 1145.3 362.7 1146.1 C364.7 1146.9 367.3 1151.9 370.2 1152.9 C373.1 1153.9 377.9 1153.1 380.0 1152.0 C382.1 1150.9 380.4 1147.0 382.5 1146.3 C384.6 1145.6 390.5 1147.9 392.6 1147.6 C394.7 1147.3 393.2 1144.5 395.1 1144.4 C397.0 1144.3 400.7 1146.8 403.8 1146.9 C406.9 1147.0 410.3 1145.8 413.9 1145.1 C417.4 1144.4 422.0 1142.4 425.1 1142.6 C428.2 1142.8 429.4 1145.7 432.7 1146.3 C436.0 1146.9 441.0 1145.9 445.2 1146.3 C449.4 1146.7 454.6 1148.0 457.7 1148.8 C460.8 1149.6 461.9 1151.4 464.0 1151.3 C466.1 1151.2 467.2 1148.4 470.3 1148.2 C473.4 1148.0 479.5 1149.2 482.8 1150.1 C486.1 1151.0 487.0 1152.4 490.3 1153.8 C493.6 1155.2 499.5 1157.9 502.8 1158.2 C506.1 1158.5 507.5 1155.2 510.4 1155.7 C513.3 1156.2 517.3 1161.0 520.4 1161.4 C523.5 1161.8 526.3 1157.6 529.2 1158.2 C532.1 1158.8 534.6 1163.9 537.9 1165.1 C541.2 1166.2 546.3 1163.6 549.2 1165.1 C552.1 1166.6 552.8 1171.8 555.5 1173.9 C558.2 1176.0 562.6 1174.9 565.5 1177.6 C568.4 1180.3 570.1 1186.8 573.0 1190.2 C575.9 1193.6 579.9 1195.0 583.0 1197.7 C586.1 1200.4 589.2 1202.8 591.8 1206.5 C594.4 1210.2 596.0 1215.8 598.6 1220.2 C601.2 1224.6 604.9 1226.2 607.2 1233.0 C609.5 1239.8 610.5 1251.7 612.5 1261.0 C614.5 1270.3 617.0 1279.9 619.0 1288.8 C621.0 1297.7 622.7 1304.9 624.3 1314.6 C625.9 1324.3 627.2 1339.1 628.6 1346.8 C630.0 1354.5 631.1 1357.1 632.9 1360.7 C634.7 1364.3 637.8 1362.3 639.4 1368.2 C641.0 1374.1 641.4 1387.1 642.6 1396.1 C643.9 1405.0 645.6 1413.3 646.9 1421.9 C648.1 1430.5 649.0 1439.1 650.1 1447.6 C651.2 1456.1 652.0 1473.7 653.3 1473.0 C654.5 1472.3 656.5 1455.4 657.6 1443.3 C658.7 1431.2 659.0 1414.7 659.7 1400.4 C660.4 1386.1 660.6 1371.8 661.9 1357.5 C663.2 1343.2 665.5 1325.3 667.3 1314.6 C669.1 1303.9 671.0 1298.1 672.6 1293.1 C674.2 1288.1 675.5 1284.5 676.9 1284.5 C678.3 1284.5 680.0 1286.3 681.2 1293.1 C682.5 1299.9 683.3 1312.8 684.4 1325.3 C685.5 1337.8 686.7 1353.4 687.6 1368.2 C688.5 1383.0 688.9 1412.2 689.8 1414.0 C690.7 1415.8 692.1 1392.0 693.0 1379.0 C693.9 1366.0 694.5 1350.3 695.2 1336.0 C695.9 1321.7 696.8 1307.4 697.3 1293.1 C697.8 1278.8 697.9 1264.5 698.4 1250.2 C698.9 1235.9 699.4 1219.8 700.5 1207.3 C701.6 1194.8 703.2 1184.0 704.8 1175.1 C706.4 1166.1 708.2 1159.3 710.2 1153.6 C712.2 1147.9 713.8 1145.1 716.6 1140.8 C719.5 1136.5 723.7 1131.5 727.3 1127.9 C730.9 1124.3 735.2 1120.5 738.1 1119.3 C741.0 1118.0 740.9 1120.2 744.5 1120.4 C748.1 1120.6 755.6 1121.3 759.5 1120.4 C763.4 1119.5 765.2 1115.4 768.1 1115.0 C771.0 1114.6 774.7 1117.4 776.7 1118.2 C778.7 1119.0 777.0 1119.1 780.0 1120.0 C783.0 1120.9 789.4 1123.2 795.0 1123.8 C800.6 1124.4 809.2 1124.8 813.8 1123.8 C818.4 1122.8 819.5 1119.1 822.6 1117.6 C825.7 1116.0 827.6 1114.9 832.6 1114.5 C837.6 1114.1 846.9 1114.8 852.7 1115.0 C858.6 1115.2 862.3 1115.3 867.7 1115.6 C873.1 1115.9 880.7 1117.2 885.3 1117.0 C889.9 1116.8 891.1 1114.7 895.3 1114.5 C899.5 1114.3 906.8 1114.9 910.3 1115.6 C913.8 1116.3 913.2 1118.6 916.6 1118.8 C920.0 1119.0 926.9 1116.8 930.4 1117.0 C933.9 1117.2 935.2 1120.3 937.9 1120.0 C940.6 1119.7 943.8 1114.2 946.7 1115.0 C949.6 1115.8 952.9 1124.6 955.4 1125.0 C957.9 1125.4 959.2 1117.4 961.7 1117.6 C964.2 1117.8 967.4 1125.3 970.5 1126.3 C973.6 1127.3 976.8 1125.0 980.5 1123.8 C984.2 1122.5 988.0 1119.4 993.0 1118.8 C998.0 1118.2 1005.8 1120.4 1010.6 1120.0 C1015.4 1119.6 1016.5 1116.3 1021.9 1116.3 C1027.3 1116.3 1035.5 1119.2 1043.2 1120.0 C1050.9 1120.8 1059.9 1120.7 1068.2 1121.3 C1076.5 1121.9 1085.4 1122.5 1093.3 1123.8 C1101.2 1125.0 1109.5 1127.3 1115.8 1128.8 C1122.1 1130.3 1127.1 1132.4 1130.9 1132.6 C1134.7 1132.8 1133.4 1130.3 1138.4 1130.1 C1143.4 1129.9 1155.6 1130.2 1161.0 1131.3 C1166.4 1132.3 1165.6 1135.1 1171.0 1136.4 C1176.4 1137.7 1186.0 1137.9 1193.5 1138.9 C1201.0 1139.9 1209.8 1140.5 1216.1 1142.6 C1222.4 1144.7 1227.4 1148.6 1231.1 1151.4 C1234.8 1154.2 1235.6 1155.4 1238.5 1159.2 C1241.4 1163.0 1245.5 1169.0 1248.6 1174.4 C1251.7 1179.8 1254.5 1184.6 1257.1 1191.4 C1259.6 1198.2 1262.1 1206.1 1263.9 1215.1 C1265.7 1224.1 1267.0 1234.9 1268.1 1245.6 C1269.2 1256.3 1269.7 1268.2 1270.7 1279.5 C1271.7 1290.8 1273.1 1302.1 1274.1 1313.4 C1275.1 1324.7 1275.8 1338.0 1276.6 1347.3 C1277.4 1356.6 1278.1 1369.0 1279.2 1369.0 C1280.3 1369.0 1282.3 1356.6 1283.4 1347.3 C1284.5 1338.0 1285.1 1324.7 1285.9 1313.4 C1286.8 1302.1 1287.7 1290.8 1288.5 1279.5 C1289.3 1268.2 1290.0 1256.9 1291.0 1245.6 C1292.0 1234.3 1293.0 1221.6 1294.4 1211.7 C1295.8 1201.8 1297.2 1193.4 1299.5 1186.3 C1301.8 1179.2 1305.2 1173.5 1308.0 1169.3 C1310.8 1165.0 1314.0 1162.5 1316.4 1160.8 C1318.8 1159.1 1320.1 1158.3 1322.4 1159.2 C1324.7 1160.1 1327.0 1162.8 1330.0 1165.9 C1333.0 1169.0 1337.1 1173.0 1340.2 1177.8 C1343.3 1182.6 1346.1 1188.5 1348.6 1194.7 C1351.1 1200.9 1353.4 1206.6 1355.4 1215.1 C1357.4 1223.6 1359.1 1234.9 1360.5 1245.6 C1361.9 1256.3 1362.8 1268.2 1363.9 1279.5 C1365.0 1290.8 1366.3 1302.1 1367.3 1313.4 C1368.3 1324.7 1368.9 1336.6 1369.8 1347.3 C1370.7 1358.0 1371.7 1369.8 1372.4 1377.8 C1373.1 1385.8 1373.4 1397.3 1374.1 1395.0 C1374.8 1392.7 1375.9 1376.4 1376.6 1364.2 C1377.3 1352.0 1377.6 1336.0 1378.3 1321.9 C1379.0 1307.8 1379.9 1292.2 1380.8 1279.5 C1381.7 1266.8 1382.6 1256.9 1383.4 1245.6 C1384.2 1234.3 1384.6 1221.3 1385.9 1211.7 C1387.2 1202.1 1389.2 1193.7 1391.0 1188.0 C1392.8 1182.3 1394.9 1180.1 1396.9 1177.8 C1398.9 1175.5 1400.8 1173.3 1402.9 1174.4 C1405.0 1175.5 1408.0 1178.4 1409.7 1184.6 C1411.4 1190.8 1412.0 1200.1 1413.0 1211.7 C1414.0 1223.3 1414.8 1241.4 1415.6 1254.1 C1416.4 1266.8 1417.2 1276.7 1418.1 1288.0 C1418.9 1299.3 1420.0 1313.6 1420.7 1321.9 C1421.5 1330.2 1421.5 1340.5 1422.6 1338.0 C1423.7 1335.5 1425.6 1313.7 1427.1 1306.6 C1428.5 1299.5 1430.1 1300.0 1431.3 1295.3 C1432.5 1290.6 1432.9 1283.7 1434.1 1278.3 C1435.3 1272.9 1436.4 1264.0 1438.4 1262.8 C1440.4 1261.6 1444.5 1273.3 1446.1 1271.2 C1447.7 1269.1 1447.2 1255.0 1448.2 1250.1 C1449.2 1245.2 1450.2 1243.2 1451.8 1241.6 C1453.4 1239.9 1456.6 1243.0 1458.1 1240.2 C1459.6 1237.4 1460.0 1227.4 1461.0 1224.6 C1462.0 1221.8 1462.2 1222.2 1463.8 1223.2 C1465.4 1224.2 1468.7 1231.2 1470.8 1230.3 C1472.9 1229.4 1474.4 1220.9 1476.5 1217.6 C1478.6 1214.3 1481.5 1210.3 1483.6 1210.5 C1485.7 1210.7 1487.1 1218.0 1489.2 1219.0 C1491.3 1220.0 1493.7 1215.3 1496.3 1216.2 C1498.9 1217.1 1502.3 1222.5 1504.7 1224.6 C1507.1 1226.7 1508.3 1225.8 1510.4 1228.9 C1512.5 1232.0 1515.4 1237.1 1517.5 1243.0 C1519.6 1248.9 1521.2 1258.3 1523.1 1264.2 C1525.0 1270.1 1527.1 1274.8 1528.8 1278.3 C1530.5 1281.8 1531.1 1284.2 1533.0 1285.4 C1534.9 1286.6 1537.8 1287.3 1540.1 1285.4 C1542.4 1283.5 1544.3 1278.1 1547.1 1274.1 C1549.9 1270.1 1554.7 1262.4 1557.0 1261.4 C1559.3 1260.5 1559.8 1264.4 1561.2 1268.4 C1562.6 1272.4 1564.1 1279.5 1565.5 1285.4 C1566.9 1291.3 1568.0 1297.8 1569.7 1303.7 C1571.4 1309.6 1573.3 1315.2 1575.4 1320.7 C1577.5 1326.2 1580.4 1335.8 1582.4 1337.0 C1584.4 1338.2 1586.2 1334.0 1587.4 1327.7 C1588.6 1321.5 1588.8 1308.9 1589.5 1299.5 C1590.2 1290.1 1590.8 1281.8 1591.6 1271.2 C1592.4 1260.6 1593.5 1244.8 1594.4 1235.9 C1595.4 1227.0 1596.3 1221.6 1597.3 1217.6 C1598.2 1213.6 1598.9 1212.4 1600.1 1211.9 C1601.3 1211.4 1602.9 1212.6 1604.7 1214.4 C1606.5 1216.2 1608.2 1223.7 1610.7 1222.7 C1613.2 1221.7 1616.8 1208.7 1619.6 1208.5 C1622.4 1208.3 1624.6 1219.1 1627.3 1221.5 C1630.0 1223.9 1633.0 1223.9 1635.6 1222.7 C1638.2 1221.5 1640.5 1217.6 1642.7 1214.4 C1644.9 1211.2 1646.2 1206.1 1648.6 1203.7 C1651.0 1201.3 1653.9 1202.0 1656.9 1200.2 C1659.9 1198.4 1663.8 1192.8 1666.4 1193.0 C1669.0 1193.2 1669.6 1199.9 1672.4 1201.3 C1675.2 1202.7 1679.8 1200.5 1683.0 1201.3 C1686.2 1202.1 1689.3 1207.5 1691.3 1206.1 C1693.3 1204.7 1693.9 1198.2 1694.9 1193.0 C1695.9 1187.8 1696.3 1179.4 1697.3 1175.2 C1698.3 1171.0 1698.8 1168.5 1700.8 1168.1 C1702.8 1167.7 1707.1 1174.3 1709.1 1172.9 C1711.1 1171.5 1711.7 1164.0 1712.7 1159.8 C1713.7 1155.6 1714.1 1150.2 1715.1 1148.0 C1716.1 1145.8 1717.2 1145.2 1718.6 1146.8 C1720.0 1148.4 1722.0 1155.2 1723.4 1157.4 C1724.8 1159.6 1725.5 1161.4 1726.9 1159.8 C1728.3 1158.2 1730.3 1150.6 1731.7 1148.0 C1733.1 1145.4 1733.4 1144.2 1735.2 1144.4 C1737.0 1144.6 1739.9 1149.5 1742.3 1149.1 C1744.7 1148.7 1746.5 1144.0 1749.5 1142.0 C1752.5 1140.0 1756.9 1136.9 1760.1 1137.3 C1763.2 1137.7 1765.5 1144.9 1768.4 1144.4 C1771.3 1143.9 1775.3 1135.3 1777.7 1134.3 C1780.1 1133.3 1781.5 1135.6 1783.0 1138.5 C1784.5 1141.4 1784.6 1149.5 1786.6 1151.5 C1788.6 1153.5 1792.3 1149.1 1794.9 1150.3 C1797.5 1151.5 1799.8 1156.4 1802.0 1158.6 C1804.2 1160.8 1806.6 1159.6 1808.0 1163.4 C1809.4 1167.2 1809.7 1174.3 1810.3 1181.2 C1810.9 1188.1 1811.0 1195.0 1811.5 1204.9 C1812.0 1214.8 1812.6 1230.6 1813.3 1240.5 C1814.0 1250.4 1815.1 1258.0 1815.7 1264.2 C1816.3 1270.5 1816.4 1278.0 1816.9 1278.0 C1817.4 1278.0 1818.0 1270.5 1818.6 1264.2 C1819.2 1258.0 1819.9 1249.4 1820.4 1240.5 C1820.9 1231.6 1821.1 1219.7 1821.6 1210.8 C1822.1 1201.9 1822.7 1192.6 1823.4 1187.1 C1824.1 1181.6 1824.4 1179.0 1825.8 1177.6 C1827.2 1176.2 1830.2 1181.2 1831.7 1178.8 C1833.2 1176.4 1833.8 1167.2 1834.6 1163.4 C1835.4 1159.7 1834.9 1159.1 1836.4 1156.3 C1837.9 1153.5 1841.1 1149.0 1843.5 1146.8 C1845.9 1144.6 1847.9 1144.0 1850.7 1143.2 C1853.5 1142.4 1857.2 1142.9 1860.2 1142.0 C1863.2 1141.1 1865.5 1138.9 1868.5 1137.9 C1871.5 1136.9 1875.2 1135.8 1878.0 1136.1 C1880.8 1136.4 1882.5 1138.3 1885.1 1139.7 C1887.7 1141.1 1890.6 1144.4 1893.4 1144.4 C1896.2 1144.4 1899.5 1139.7 1901.7 1139.7 C1903.9 1139.7 1904.6 1140.4 1906.4 1144.4 C1908.2 1148.5 1910.3 1161.2 1912.3 1164.0 C1914.3 1166.8 1916.9 1163.5 1918.3 1161.0 C1919.7 1158.5 1919.9 1151.5 1920.7 1149.1 C1921.5 1146.7 1921.8 1146.4 1923.0 1146.8 C1924.2 1147.2 1925.6 1150.5 1927.8 1151.5 C1930.0 1152.5 1934.6 1152.5 1936.0 1152.7" fill="none" stroke="#505050" stroke-width="7.5" stroke-linejoin="round" stroke-linecap="butt"/>
<line x1="1333.5" y1="194.6" x2="1333.5" y2="1381.6" stroke="#000" stroke-width="3.5" stroke-dasharray="14.4 13.53"/>
<text x="80.1" y="1598" font-family="Liberation Serif, Times New Roman, serif" font-weight="bold" font-size="65.5" text-anchor="middle" textLength="126" lengthAdjust="spacingAndGlyphs">4000</text>
<text x="345.6" y="1598" font-family="Liberation Serif, Times New Roman, serif" font-weight="bold" font-size="65.5" text-anchor="middle">3500</text>
<text x="610.4" y="1598" font-family="Liberation Serif, Times New Roman, serif" font-weight="bold" font-size="65.5" text-anchor="middle">3000</text>
<text x="876.0" y="1598" font-family="Liberation Serif, Times New Roman, serif" font-weight="bold" font-size="65.5" text-anchor="middle">2500</text>
<text x="1140.4" y="1598" font-family="Liberation Serif, Times New Roman, serif" font-weight="bold" font-size="65.5" text-anchor="middle">2000</text>
<text x="1405.4" y="1598" font-family="Liberation Serif, Times New Roman, serif" font-weight="bold" font-size="65.5" text-anchor="middle">1500</text>
<text x="1670.5" y="1598" font-family="Liberation Serif, Times New Roman, serif" font-weight="bold" font-size="65.5" text-anchor="middle">1000</text>
<text x="1934.9" y="1598" font-family="Liberation Serif, Times New Roman, serif" font-weight="bold" font-size="65.5" text-anchor="middle">500</text>
<g font-family="Liberation Serif, Times New Roman, serif" font-weight="bold" font-size="67.4">
<text x="105.2" y="131.9" textLength="83.9" lengthAdjust="spacingAndGlyphs">(a)</text>
<text x="107.4" y="506.2" textLength="86.6" lengthAdjust="spacingAndGlyphs">(b)</text>
<text x="109.0" y="800.2" textLength="79" lengthAdjust="spacingAndGlyphs">(c)</text>
<text x="105.3" y="1099.4" textLength="87.2" lengthAdjust="spacingAndGlyphs">(d)</text>
</g>
<text font-family="Liberation Serif, Times New Roman, serif" y="1739.4"><tspan x="679.5 760.7 797.3 836.4 872.5 915 957.3 1024.1 1066 1101.2" font-weight="bold" font-size="79">Wavenumber</tspan><tspan x="1134" y="1739.7" font-size="76">(</tspan><tspan x="1159.5" y="1739.4" font-weight="bold" font-size="79">cm</tspan><tspan x="1259.5" y="1706.8" font-size="57">&#8722;</tspan><tspan x="1288.5" y="1699.6" font-size="46">1</tspan><tspan x="1310" y="1739.7" font-size="76">)</tspan></text>
<text font-family="Liberation Serif, Times New Roman, serif" x="1225.3" y="1462.8" font-size="56.4">1632 cm<tspan x="1417" y="1430.8">&#8722;</tspan><tspan x="1451.5" y="1424.9" font-size="55.3">1</tspan></text>
</svg>
</body></html>
